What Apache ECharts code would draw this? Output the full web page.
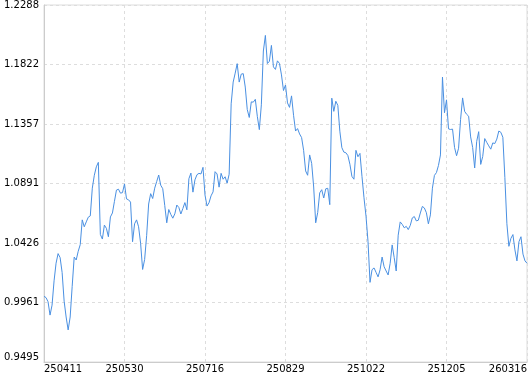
<!DOCTYPE html>
<html>
<head>
<meta charset="utf-8">
<script src="https://cdn.jsdelivr.net/npm/echarts@6/dist/echarts.min.js"></script>
<style>
html,body{margin:0;padding:0;background:#fff;}
#chart{width:530px;height:374px;}
</style>
</head>
<body>
<div id="chart"></div>
<script>
const xTickLabels = ['250411','250530','250716','250829','251022','251205','260316'];
const yTickLabels = ['0.9495','0.9961','1.0426','1.0891','1.1357','1.1822','1.2288'];
const navValues = [
1.0009,0.9999,0.9967,0.9862,0.9940,1.0130,1.0268,1.0343,1.0312,1.0196,
0.9971,0.9847,0.9746,0.9847,1.0087,1.0316,1.0293,1.0361,1.0413,1.0607,
1.0553,1.0591,1.0628,1.0638,1.0855,1.0956,1.1022,1.1057,1.0493,1.0457,
1.0566,1.0541,1.0475,1.0630,1.0661,1.0752,1.0840,1.0847,1.0816,1.0820,
1.0888,1.0771,1.0764,1.0746,1.0436,1.0576,1.0607,1.0553,1.0424,1.0219,
1.0297,1.0483,1.0731,1.0812,1.0774,1.0855,1.0907,1.0958,1.0878,1.0851,
1.0719,1.0584,1.0688,1.0650,1.0620,1.0654,1.0723,1.0704,1.0653,1.0696,
1.0742,1.0686,1.0929,1.0973,1.0824,1.0920,1.0960,1.0971,1.0966,1.1018,
1.0801,1.0715,1.0741,1.0795,1.0826,1.0984,1.0966,1.0863,1.0971,1.0925,
1.0944,1.0894,1.0964,1.1515,1.1685,1.1755,1.1829,1.1685,1.1747,1.1751,
1.1646,1.1470,1.1408,1.1530,1.1528,1.1550,1.1417,1.1313,1.1507,1.1928,
1.2050,1.1830,1.1848,1.1972,1.1804,1.1784,1.1851,1.1831,1.1741,1.1619,
1.1662,1.1522,1.1487,1.1577,1.1425,1.1302,1.1321,1.1279,1.1251,1.1151,
1.0990,1.0956,1.1115,1.1049,1.0864,1.0584,1.0664,1.0818,1.0843,1.0778,
1.0850,1.0854,1.0726,1.1559,1.1456,1.1535,1.1503,1.1301,1.1172,1.1137,
1.1132,1.1110,1.1042,1.0947,1.0925,1.1151,1.1101,1.1127,1.0947,1.0780,
1.0636,1.0438,1.0118,1.0217,1.0231,1.0196,1.0161,1.0217,1.0316,1.0240,
1.0207,1.0176,1.0267,1.0411,1.0312,1.0207,1.0487,1.0591,1.0572,1.0545,
1.0556,1.0531,1.0564,1.0622,1.0633,1.0599,1.0604,1.0661,1.0712,1.0700,
1.0663,1.0576,1.0646,1.0855,1.0955,1.0977,1.1032,1.1115,1.1724,1.1445,
1.1546,1.1319,1.1314,1.1317,1.1173,1.1109,1.1167,1.1393,1.1561,1.1456,
1.1433,1.1418,1.1256,1.1173,1.1013,1.1221,1.1297,1.1041,1.1103,1.1243,
1.1213,1.1186,1.1160,1.1209,1.1204,1.1239,1.1302,1.1292,1.1253,1.0938,
1.0577,1.0400,1.0462,1.0492,1.0372,1.0286,1.0436,1.0475,1.0339,1.0286,
1.0268
];

const yMin = parseFloat(yTickLabels[0]);
const yMax = parseFloat(yTickLabels[yTickLabels.length - 1]);
const xMax = navValues.length - 1;
const xStep = xMax / (xTickLabels.length - 1);

const chart = echarts.init(document.getElementById('chart'), null, {renderer: 'canvas'});
const fontFamily = 'DejaVu Sans';
chart.setOption({
  animation: false,
  backgroundColor: '#ffffff',
  grid: {
    left: 44, right: 2, top: 1, bottom: 12,
    show: true, borderColor: '#dddddd', borderWidth: 1, backgroundColor: 'transparent'
  },
  xAxis: {
    type: 'value',
    min: 0,
    max: xMax,
    interval: xStep,
    axisLine: {show: true, lineStyle: {color: '#cccccc', width: 1}},
    axisTick: {show: false},
    splitLine: {show: true, lineStyle: {color: '#dddddd', type: [3, 3], width: 1}},
    axisLabel: {
      margin: 2,
      color: '#000000',
      fontFamily: fontFamily,
      fontSize: 10,
      alignMinLabel: 'left',
      alignMaxLabel: 'right',
      formatter: function (v) {
        const i = Math.round(v / xStep);
        return xTickLabels[i] || '';
      }
    }
  },
  yAxis: {
    type: 'value',
    position: 'left',
    min: yMin,
    max: yMax,
    interval: (yMax - yMin) / (yTickLabels.length - 1),
    axisLine: {show: true, lineStyle: {color: '#cccccc', width: 1}},
    axisTick: {show: false},
    splitLine: {show: true, lineStyle: {color: '#dddddd', type: [3, 3], width: 1}},
    axisLabel: {
      margin: 5,
      color: '#000000',
      fontFamily: fontFamily,
      fontSize: 10,
      verticalAlignMinLabel: 'bottom',
      verticalAlignMaxLabel: 'top',
      formatter: function (v) {
        let best = yTickLabels[0], bd = Infinity;
        for (const s of yTickLabels) {
          const d = Math.abs(parseFloat(s) - v);
          if (d < bd) { bd = d; best = s; }
        }
        return best;
      }
    }
  },
  series: [{
    type: 'line',
    data: navValues.map(function (v, i) { return [i, v]; }),
    showSymbol: false,
    symbol: 'none',
    lineStyle: {color: '#4a90e2', width: 1},
    itemStyle: {color: '#4a90e2'},
    silent: true
  }]
});
</script>
</body>
</html>
